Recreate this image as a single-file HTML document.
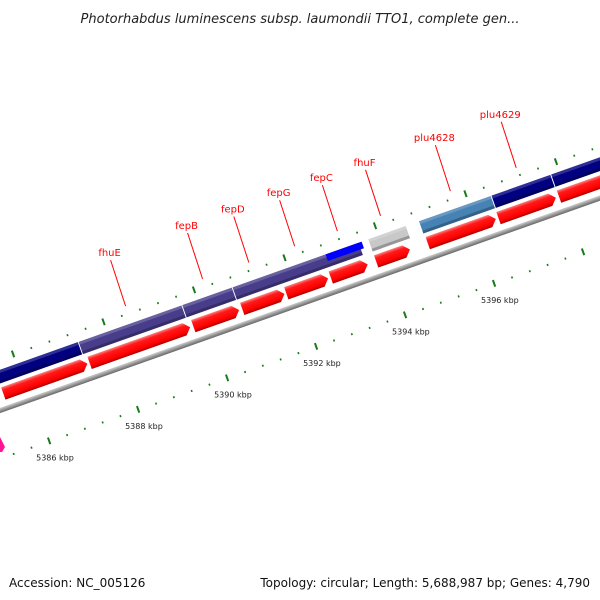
<!DOCTYPE html>
<html><head><meta charset="utf-8"><style>
html,body{margin:0;padding:0;background:#fff;}
svg{display:block;font-family:"DejaVu Sans","Liberation Sans",sans-serif;}
</style></head><body>
<svg id="map" width="600" height="600" viewBox="0 0 600 600" xmlns="http://www.w3.org/2000/svg">
<defs>
<linearGradient id="gRed" x1="0" y1="0" x2="0" y2="1"><stop offset="0" stop-color="#ff8080"/><stop offset="0.25" stop-color="#ff1a1a"/><stop offset="0.75" stop-color="#f00"/><stop offset="1" stop-color="#a00"/></linearGradient>
<linearGradient id="gGray" x1="0" y1="0" x2="0" y2="1"><stop offset="0" stop-color="#cfcfcf"/><stop offset="0.5" stop-color="#999"/><stop offset="1" stop-color="#666"/></linearGradient>
</defs>
<text x="300" y="23" text-anchor="middle" font-size="13" font-style="italic" fill="#222">Photorhabdus luminescens subsp. laumondii TTO1, complete gen...</text>
<g id="rot" transform="translate(0,410) rotate(-19.5)"></g>
<g id="over"></g>
<polygon points="0,437 5,447 2,452 0,452" fill="#ff1493"/>
<text x="9" y="587" font-size="12" fill="#111">Accession: NC_005126</text>
<text x="590" y="587" text-anchor="end" font-size="12" fill="#111">Topology: circular; Length: 5,688,987 bp; Genes: 4,790</text>
</svg>
<script>
const NS='http://www.w3.org/2000/svg';
// forward genes (red track), kbp
const fwdStarts=[5385.42,5387.36,5389.69,5390.79,5391.78,5392.78,5393.80,5394.96,5396.55,5397.91];
const fwdEnds  =[5387.31,5389.62,5390.72,5391.74,5392.72,5393.61,5394.56,5396.49,5397.84,5400.0];
// COG-coloured track, kbp
const cogStarts=[5383.1,5387.29,5389.62,5390.75,5393.80,5394.94,5396.57,5397.91];
const cogEnds  =[5387.27,5389.60,5390.73,5393.58,5394.64,5396.55,5397.89,5400.0];
const cogColors=['#000080','#483d8b','#483d8b','#483d8b','#c8c8c8','#4682b4','#000080','#000080'];
const blueStarts=[5392.84];
const blueEnds=[5393.65];
// labels
const geneNames=['fhuE','fepB','fepD','fepG','fepC','fhuF','plu4628','plu4629'];
const geneLabelKbp=[5388.48,5390.21,5391.25,5392.28,5393.24,5394.21,5395.78,5397.26];
const tickKbp=[5386,5388,5390,5392,5394,5396];
const tickLabels=['5386 kbp','5388 kbp','5390 kbp','5392 kbp','5394 kbp','5396 kbp'];

const A=k=>36+(k-5386)*47.2;
const AU=k=>31+(k-5386)*48;
const c=Math.cos(19.5*Math.PI/180), s=Math.sin(19.5*Math.PI/180);
const toReal=(a,b)=>[a*c+b*s, 410-a*s+b*c];
const rot=document.getElementById('rot'), over=document.getElementById('over');
function mk(tag,attrs,parent){const e=document.createElementNS(NS,tag);for(const k in attrs)e.setAttribute(k,attrs[k]);parent.appendChild(e);return e;}

let bb=mk('rect',{x:-50,y:-2,width:800,height:5,fill:'url(#gGray)'},rot);



for(let i=0;i<cogStarts.length;i++){
  const a0=A(cogStarts[i]),a1=A(cogEnds[i]);
  const g=mk('g',{},rot);
  
  
  mk('rect',{x:a0,y:-38,width:a1-a0,height:13,fill:cogColors[i]},g);
  mk('rect',{x:a0,y:-38,width:a1-a0,height:3,fill:'#fff','fill-opacity':0.18},g);
  mk('rect',{x:a0,y:-28,width:a1-a0,height:3,fill:'#000','fill-opacity':0.25},g);
}
for(let i=0;i<blueStarts.length;i++){
  const a0=A(blueStarts[i]),a1=A(blueEnds[i]);
  const r=mk('rect',{x:a0,y:-38,width:a1-a0,height:7,fill:'#0000ff'},rot);
  
  
}
for(let i=0;i<fwdStarts.length;i++){
  const a0=A(fwdStarts[i]),a1=A(fwdEnds[i]),h=Math.min(6,a1-a0);
  const p=mk('polygon',{points:`${a0},-21 ${a1-h},-21 ${a1},-14.5 ${a1-h},-8 ${a0},-8`,fill:'url(#gRed)'},rot);
  
  
}
for(let k=5382;k<=5402.01;k+=0.4){
  const kk=Math.round(k*10)/10;
  const major=Math.abs(kk/2-Math.round(kk/2))<0.01;
  const au=AU(kk), al=A(kk);
  const t1=mk('line',{x1:au,y1:major?-52:-49,x2:au,y2:major?-45:-47,stroke:'#1a7a1a','stroke-width':major?2:1.6},rot);
  
  
  const t2=mk('line',{x1:al,y1:major?42:45,x2:al,y2:major?49:47,stroke:'#1a7a1a','stroke-width':major?2:1.6},rot);
  
  
}
for(let i=0;i<tickKbp.length;i++){
  const [x,y]=toReal(A(tickKbp[i]),63);
  const t=mk('text',{x:x,y:y+3,'text-anchor':'middle','font-size':8,fill:'#222'},over);
  t.textContent=tickLabels[i];
  
  
}
for(let i=0;i<geneNames.length;i++){
  const [x1,y1]=toReal(A(geneLabelKbp[i]),-56);
  const x0=x1-15,y0=y1-46;
  const l=mk('line',{x1:x0,y1:y0,x2:x1,y2:y1,stroke:'#f00','stroke-width':1},over);
  
  
  const t=mk('text',{x:x0-1,y:y0-4,'text-anchor':'middle','font-size':10,fill:'#f00'},over);
  t.textContent=geneNames[i];
  
  
}
</script>
</body></html>
